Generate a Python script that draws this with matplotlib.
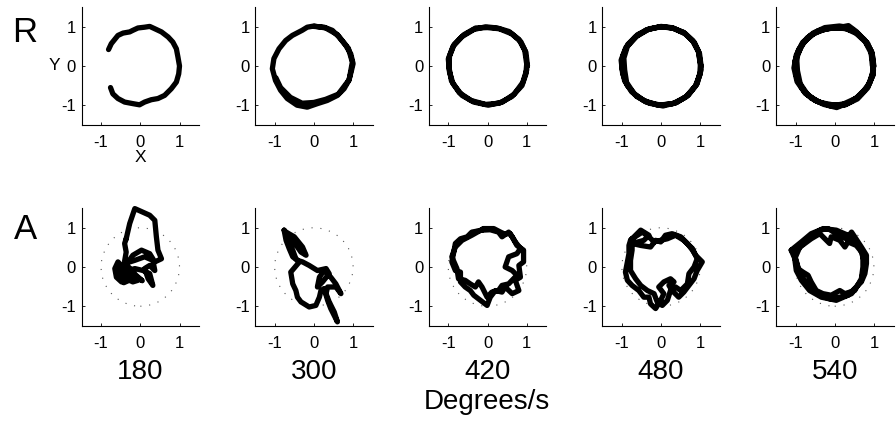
import matplotlib
matplotlib.use('Agg')
import matplotlib.pyplot as plt
from matplotlib.patches import Circle

plt.rcParams['font.family'] = ['Liberation Sans', 'DejaVu Sans']

# ---------------- data ----------------
speeds = ['180', '300', '420', '480', '540']
tick_values = [-1, 0, 1]
tick_labels = ['-1', '0', '1']
axis_lim = (-1.5, 1.5)
ref_radius = 1.0

# Row R (reference-like smooth tracking)
r180_x = [-0.81, -0.74, -0.57, -0.44, -0.27, -0.19, -0.06, 0.11, 0.24, 0.37, 0.54, 0.71, 0.83, 0.92, 0.96, 1.00,
          0.98, 0.92, 0.79, 0.62, 0.45, 0.28, 0.11, -0.02, -0.19, -0.40, -0.57, -0.70, -0.76]
r180_y = [0.42, 0.57, 0.78, 0.84, 0.87, 0.91, 0.97, 0.99, 1.01, 0.95, 0.87, 0.74, 0.61, 0.44, 0.23, 0.00,
          -0.20, -0.41, -0.58, -0.75, -0.83, -0.86, -0.92, -0.99, -0.96, -0.92, -0.83, -0.71, -0.55]

r300_x = [0.00, 0.26, 0.47, 0.64, 0.81, 0.94, 1.00, 0.95, 0.89, 0.77, 0.60, 0.34, 0.09, -0.17, -0.43, -0.68,
          -0.85, -0.98, -1.06, -1.02, -0.89, -0.72, -0.55, -0.30, -0.17,
          0.00, 0.30, 0.60, 0.88, 0.98, 0.90, 0.62, 0.30, 0.00, -0.30, -0.60, -0.85, -0.97]
r300_y = [1.01, 0.99, 0.91, 0.74, 0.53, 0.31, 0.06, -0.15, -0.37, -0.58, -0.75, -0.88, -0.96, -1.05, -1.00, -0.83,
          -0.62, -0.37, -0.07, 0.19, 0.44, 0.65, 0.78, 0.91, 0.99,
          1.02, 0.97, 0.80, 0.45, 0.10, -0.35, -0.72, -0.85, -0.93, -0.95, -0.80, -0.55, -0.30]

r420_x = [1.02, 0.98, 0.85, 0.62, 0.30, 0.00, -0.30, -0.60, -0.85, -0.97, -0.98, -0.92, -0.72, -0.42, -0.05, 0.30,
          0.62, 0.88, 0.98, 1.00, 0.95, 0.80, 0.55, 0.25, -0.05, -0.35, -0.65, -0.88, -1.00, -0.97, -0.88, -0.65,
          -0.35, 0.02, 0.38, 0.68, 0.90, 1.00, 1.00]
r420_y = [0.00, 0.35, 0.62, 0.82, 0.95, 0.98, 0.97, 0.80, 0.55, 0.25, -0.05, -0.38, -0.68, -0.88, -0.98, -0.95,
          -0.78, -0.50, -0.20, 0.05, 0.40, 0.68, 0.88, 0.97, 1.00, 0.93, 0.75, 0.50, 0.18, -0.15, -0.45, -0.75,
          -0.92, -1.00, -0.92, -0.72, -0.42, -0.10, 0.05]

r480_x = [1.02, 0.98, 0.85, 0.62, 0.32, 0.02, -0.30, -0.60, -0.85, -0.98, -1.00, -0.93, -0.75, -0.45, -0.08, 0.30,
          0.62, 0.87, 1.00, 1.00, 0.95, 0.80, 0.57, 0.26, -0.05, -0.38, -0.66, -0.90, -1.02, -0.98, -0.86, -0.62,
          -0.30, 0.05, 0.40, 0.70, 0.92, 1.02, 1.01, 0.96, 0.82, 0.60, 0.30, 0.00, -0.33, -0.62, -0.86, -0.95,
          -0.93, -0.88, -0.68, -0.38, 0.00, 0.35, 0.66, 0.90, 1.00, 1.01]
r480_y = [0.00, 0.32, 0.60, 0.82, 0.96, 1.00, 0.95, 0.80, 0.55, 0.25, -0.05, -0.38, -0.66, -0.88, -1.00, -0.96,
          -0.80, -0.52, -0.20, 0.05, 0.38, 0.65, 0.86, 0.98, 1.00, 0.92, 0.74, 0.47, 0.15, -0.20, -0.50, -0.78,
          -0.95, -1.02, -0.93, -0.74, -0.45, -0.10, 0.02, 0.35, 0.63, 0.84, 0.97, 1.01, 0.93, 0.76, 0.50, 0.20,
          -0.10, -0.42, -0.72, -0.92, -1.00, -0.95, -0.77, -0.48, -0.15, 0.02]

r540_x = [1.00, 0.95, 0.80, 0.55, 0.35, 0.10, -0.20, -0.50, -0.78, -0.95, -1.00, -0.95, -0.78, -0.50, -0.15, 0.20,
          0.55, 0.82, 0.97, 0.98, 0.92, 0.75, 0.50, 0.20, -0.10, -0.42, -0.70, -0.92, -1.02, -0.98, -0.85, -0.60,
          -0.28, 0.05, 0.40, 0.68, 0.90, 0.99, 0.96, 0.93, 0.78, 0.55, 0.30, 0.00, -0.32, -0.62, -0.85, -0.97,
          -0.95, -0.88, -0.68, -0.38, 0.00, 0.32, 0.62, 0.86, 0.96, 0.99, 0.96, 0.84, 0.62, 0.38, 0.12, -0.25,
          -0.55, -0.82, -0.98, -1.04, -0.96, -0.75, -0.45, -0.10, 0.25, 0.58, 0.84, 0.98, 0.99]
r540_y = [0.00, 0.35, 0.62, 0.88, 1.03, 0.98, 0.95, 0.85, 0.62, 0.30, 0.00, -0.35, -0.65, -0.88, -1.00, -0.98,
          -0.82, -0.55, -0.25, 0.05, 0.40, 0.68, 0.88, 0.98, 0.97, 0.90, 0.72, 0.42, 0.10, -0.25, -0.55, -0.82,
          -0.98, -1.06, -0.92, -0.72, -0.42, -0.10, 0.02, 0.33, 0.62, 0.83, 0.95, 0.98, 0.92, 0.78, 0.52, 0.20,
          -0.12, -0.45, -0.75, -0.93, -1.00, -0.96, -0.78, -0.50, -0.20, 0.00, 0.30, 0.58, 0.80, 0.98, 1.02, 0.98,
          0.84, 0.60, 0.28, -0.05, -0.40, -0.70, -0.90, -1.02, -1.00, -0.84, -0.56, -0.22, 0.00]

# Row A (irregular tracking)
a180_x = [-0.36, -0.27, -0.14, 0.24, 0.37, 0.41, 0.45, 0.54, 0.37, 0.24, 0.03, -0.19, -0.31, -0.44, -0.57, -0.65,
          -0.61, -0.48, -0.36, -0.19, -0.06, -0.19, -0.31, -0.14, 0.07, 0.24, 0.32, 0.20, 0.11, 0.24, 0.37, 0.32,
          0.11, -0.14, -0.36, -0.52, -0.40, -0.58, -0.45, -0.28, -0.50, -0.35, -0.15, -0.42, -0.55, -0.30,
          -0.10, 0.05, -0.25, -0.40, -0.36, -0.40, -0.36]
a180_y = [0.72, 1.11, 1.49, 1.32, 1.19, 0.77, 0.43, 0.21, 0.13, 0.34, 0.43, 0.30, 0.13, 0.00, 0.13, -0.04,
          -0.26, -0.38, -0.30, -0.38, -0.34, -0.17, -0.09, -0.04, -0.09, -0.17, -0.47, -0.30, -0.04, 0.04, -0.09, 0.17,
          0.26, 0.17, 0.10, -0.05, -0.25, -0.15, -0.35, -0.20, -0.28, -0.05, -0.28, -0.40, -0.22, 0.00,
          -0.22, -0.35, -0.15, 0.15, 0.38, 0.60, 0.72]

a300_x = [-0.76, -0.54, -0.33, -0.20, -0.29, -0.50, -0.71, -0.67, -0.54, -0.46, -0.37, -0.59, -0.54, -0.46, -0.42,
          -0.33, -0.12, 0.05, 0.14, 0.18, 0.26, 0.35, 0.43, 0.60, 0.52, 0.39, 0.31, 0.35, 0.56, 0.69, 0.56, 0.43,
          0.26, 0.14, 0.09, 0.22, 0.39, 0.31, 0.09, -0.12, -0.29, -0.42, -0.54, -0.63, -0.71, -0.76]
a300_y = [0.94, 0.68, 0.38, 0.30, 0.51, 0.77, 0.89, 0.72, 0.43, 0.21, 0.13, -0.13, -0.43, -0.60, -0.77,
          -0.89, -1.02, -0.98, -0.77, -0.60, -0.55, -0.85, -1.06, -1.40, -1.15, -0.89, -0.68, -0.51, -0.51, -0.68,
          -0.43, -0.26, -0.09, -0.26, -0.51, -0.38, -0.17, -0.04, -0.09, 0.04, 0.13, 0.17, 0.26, 0.47, 0.68, 0.94]

a420_x = [-0.14, 0.07, 0.28, 0.37, 0.54, 0.63, 0.75, 0.92, 0.92, 0.80, 0.84, 0.71, 0.80, 0.63, 0.45, 0.37, 0.20,
          0.07, -0.01, -0.18, -0.35, -0.44, -0.57, -0.69, -0.69, -0.82, -0.91, -0.86, -0.82, -0.69, -0.52, -0.40,
          -0.14, -0.10, 0.16, 0.41, 0.58, 0.71, 0.84, 0.75, 0.54, 0.45, 0.63, 0.75, 0.54, 0.37, 0.28, 0.11, -0.01,
          -0.14, -0.23, -0.31, -0.44, -0.57, -0.74, -0.78, -0.91, -0.82, -0.65, -0.40, -0.10]
a420_y = [0.94, 0.95, 0.89, 0.77, 0.89, 0.77, 0.55, 0.43, 0.13, 0.04, -0.26, -0.34, -0.60, -0.68, -0.51, -0.64,
          -0.60, -0.77, -0.98, -0.85, -0.72, -0.60, -0.51, -0.38, -0.13, -0.09, 0.13, 0.38, 0.60, 0.72, 0.77, 0.89,
          0.94, 0.98, 0.98, 0.85, 0.85, 0.64, 0.47, 0.34, 0.26, 0.00, -0.09, -0.21, -0.43, -0.47, -0.60, -0.64,
          -0.77, -0.51, -0.38, -0.51, -0.43, -0.34, -0.30, -0.04, 0.26, 0.51, 0.68, 0.81, 0.98]

a480_x = [-0.78, -0.52, -0.31, -0.44, -0.74, -0.52, -0.27, -0.14, -0.01, 0.11, 0.28, 0.50, 0.67, 0.80, 0.88, 1.05,
          0.92, 0.84, 0.71, 0.58, 0.45, 0.28, 0.20, 0.33, 0.24, 0.07, -0.06, 0.07, -0.01, -0.14, -0.27, -0.31,
          -0.44, -0.57, -0.74, -0.86, -0.91, -0.86, -0.82, -0.82, -0.78,
          -0.74, -0.48, -0.31, -0.18, 0.16, 0.37, 0.58, 0.80, 0.92, 0.84, 0.71, 0.67, 0.50, 0.37, 0.24, 0.16,
          0.03, -0.10, -0.18, -0.35, -0.52, -0.65, -0.78, -0.78, -0.74, -0.74]
a480_y = [0.68, 0.94, 0.81, 0.68, 0.60, 0.55, 0.51, 0.68, 0.64, 0.81, 0.85, 0.77, 0.60, 0.43, 0.30, 0.13,
          -0.09, -0.30, -0.47, -0.64, -0.77, -0.60, -0.47, -0.38, -0.30, -0.38, -0.51, -0.68, -0.85, -1.06, -0.94,
          -0.77, -0.77, -0.60, -0.47, -0.34, -0.13, 0.13, 0.34, 0.55, 0.68,
          0.72, 0.89, 0.77, 0.64, 0.72, 0.81, 0.68, 0.47, 0.21, 0.00, -0.17, -0.43, -0.60, -0.51, -0.60, -0.85,
          -0.98, -0.89, -0.68, -0.60, -0.47, -0.30, -0.09, 0.17, 0.43, 0.72]

a540_x = [-1.11, -0.98, -0.89, -0.77, -0.60, -0.38, -0.13, 0.13, 0.34, 0.51, 0.68, 0.77, 0.81, 0.81, 0.68, 0.51,
          0.43, 0.30, 0.17, 0.04, -0.17, -0.38, -0.60, -0.85, -1.11,
          -1.06, -0.60, -0.38, -0.21, -0.13, -0.09, 0.13, 0.26, 0.34, 0.55, 0.72, 0.72, 0.68, 0.51, 0.26, 0.13,
          -0.09, -0.30, -0.47, -0.60, -0.68, -0.81, -0.94, -0.98, -1.06,
          -0.89, -0.60, -0.30, 0.04, 0.34, 0.64, 0.77, 0.68, 0.43, 0.04, -0.34, -0.64, -0.85, -0.98, -1.02, -0.89]
a540_y = [0.43, 0.13, -0.13, -0.34, -0.55, -0.72, -0.81, -0.77, -0.72, -0.55, -0.38, -0.17, 0.09, 0.30, 0.51, 0.77,
          0.89, 0.72, 0.77, 0.85, 0.98, 0.94, 0.85, 0.64, 0.43,
          0.38, 0.72, 0.85, 0.68, 0.60, 0.77, 0.68, 0.51, 0.64, 0.55, 0.34, 0.00, -0.30, -0.60, -0.68, -0.60,
          -0.72, -0.68, -0.60, -0.38, -0.21, -0.13, -0.04, 0.17, 0.38,
          0.51, 0.81, 0.98, 0.94, 0.81, 0.51, 0.09, -0.34, -0.68, -0.85, -0.77, -0.60, -0.34, -0.09, 0.21, 0.51]

row_r = [(r180_x, r180_y), (r300_x, r300_y), (r420_x, r420_y), (r480_x, r480_y), (r540_x, r540_y)]
row_a = [(a180_x, a180_y), (a300_x, a300_y), (a420_x, a420_y), (a480_x, a480_y), (a540_x, a540_y)]

# ---------------- layout ----------------
W, H = 896, 422
fig = plt.figure(figsize=(W / 100, H / 100), dpi=100)

ax_w = 117.6
col_left = [81.5 + 173.6 * i for i in range(5)]
row_top = [7.2, 208.2]


def fx(px):
    return px / W


def fy(py):
    return 1 - py / H


def style_axes(ax):
    ax.set_xlim(*axis_lim)
    ax.set_ylim(*axis_lim)
    ax.set_xticks(tick_values, tick_labels)
    ax.set_yticks(tick_values, tick_labels)
    for s in ('top', 'right'):
        ax.spines[s].set_visible(False)
    for s in ('left', 'bottom'):
        ax.spines[s].set_linewidth(0.8)
    ax.tick_params(direction='in', length=2.5, width=0.6, labelsize=12)
    ax.tick_params(axis='x', pad=7)
    ax.tick_params(axis='y', pad=4)
    ax.set_facecolor('none')


for r, rowdata in enumerate([row_r, row_a]):
    for c, (xs, ys) in enumerate(rowdata):
        ax = fig.add_axes([fx(col_left[c]), fy(row_top[r] + ax_w), fx(ax_w), ax_w / H])
        style_axes(ax)
        if r == 1:
            ax.add_patch(Circle((0, 0), ref_radius, fill=False, ec='#555555', lw=0.8,
                                ls=(0, (1, 7))))
        ax.plot(xs, ys, color='black', lw=3.8, solid_joinstyle='round',
                solid_capstyle='round', clip_on=False)

# Panel letters and labels
fig.text(fx(25), fy(33), 'R', fontsize=25, ha='center', va='center')
fig.text(fx(25), fy(230), 'A', fontsize=25, ha='center', va='center')
fig.text(fx(54), fy(66), 'Y', fontsize=12.5, ha='center', va='center')
fig.text(fx(140), fy(157), 'X', fontsize=12.5, ha='center', va='center')

for c, s in enumerate(speeds):
    fig.text(fx(col_left[c] + ax_w / 2), fy(372), s, fontsize=20, ha='center', va='center')
fig.text(fx(487), fy(402), 'Degrees/s', fontsize=20, ha='center', va='center')

fig.savefig('out.png', dpi=100)
